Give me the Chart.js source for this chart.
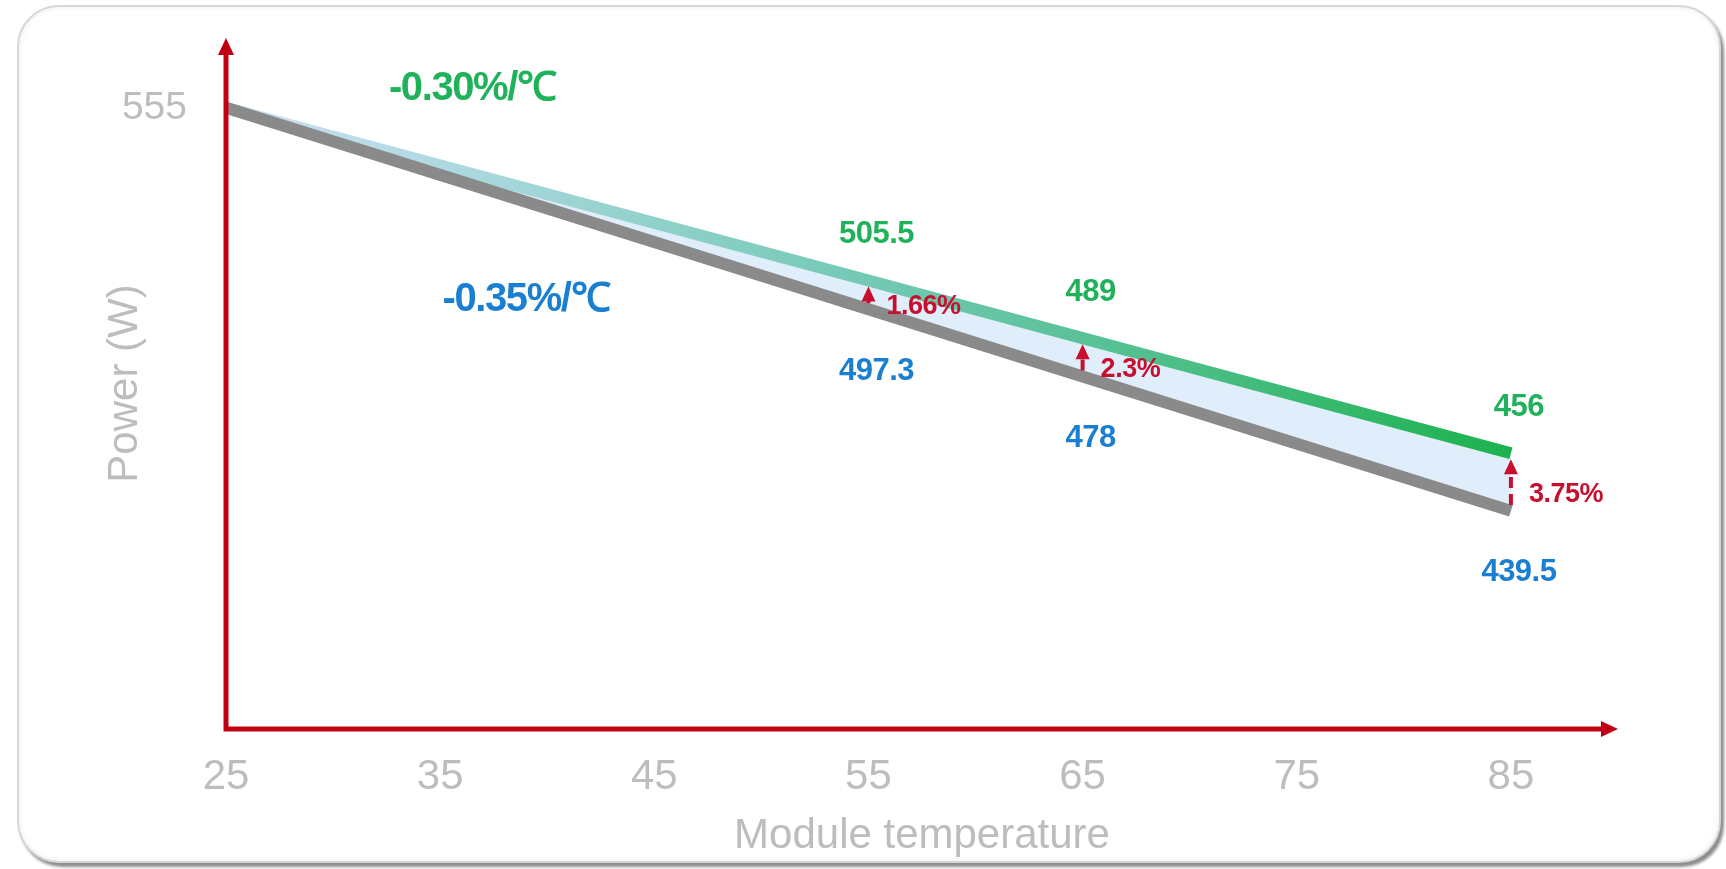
<!DOCTYPE html>
<html>
<head>
<meta charset="utf-8">
<script src="https://cdn.jsdelivr.net/npm/chart.js@4.4.1/dist/chart.umd.min.js"></script>
<style>
  body { margin: 0; background: #fff; }
  #card {
    position: absolute; left: 17px; top: 5px; width: 1700px; height: 854px;
    border: 2px solid #d6d6d6; border-radius: 42px; background: #fff;
    box-shadow: 3px 4px 3px rgba(0,0,0,0.45), inset 0 0 6px rgba(0,0,0,0.08);
  }
  #wrap { position: absolute; left: 0; top: 0; width: 1726px; height: 869px; }
</style>
</head>
<body>
<div id="card"></div>
<div id="wrap"><canvas id="tempChart"></canvas></div>
<script>
// values
const temps = [25, 55, 65, 85];
const power030 = [555, 505.5, 489, 456];
const power035 = [555, 497.3, 478, 439.5];
const gapTemps = [55, 65, 85];
const gapLabels = ["1.66%", "2.3%", "3.75%"];
const xTicks = [25, 35, 45, 55, 65, 75, 85];
const yTicks = [555];

const FONT = "'Liberation Sans', Arial, sans-serif";
const green = "#1fb25a";
const blue = "#1b7fd1";
const red = "#c8102e";
const axisRed = "#c00012";
const tickGray = "#bdbdbd";

function greenStroke(ctx) {
  const chart = ctx.chart;
  const area = chart.chartArea;
  if (!area) return green;
  const x = chart.scales.x;
  const g = chart.ctx.createLinearGradient(area.left, 0, x.getPixelForValue(85), 0);
  g.addColorStop(0, "#cde1f7");
  g.addColorStop(0.5, "#72c9b4");
  g.addColorStop(0.68, "#58c195");
  g.addColorStop(1, "#1cb24e");
  return g;
}

function arrowHead(c, x, y, dir, len, half) {
  c.beginPath();
  if (dir === "up") {
    c.moveTo(x, y);
    c.lineTo(x - half, y + len);
    c.lineTo(x + half, y + len);
  } else {
    c.moveTo(x, y);
    c.lineTo(x - len, y - half);
    c.lineTo(x - len, y + half);
  }
  c.closePath();
  c.fill();
}

function text(c, str, x, y, font, color, align, spacing) {
  c.save();
  c.font = font;
  c.fillStyle = color;
  c.textAlign = align || "center";
  c.textBaseline = "middle";
  c.letterSpacing = spacing || "0px";
  c.fillText(str, x, y);
  c.restore();
}

const decorations = {
  id: "decorations",
  afterDatasetsDraw(chart) {
    const c = chart.ctx;
    const x = chart.scales.x;
    const y = chart.scales.y;
    const area = chart.chartArea;

    // dashed gap arrows between the two lines
    gapTemps.forEach((t, i) => {
      const k = temps.indexOf(t);
      const px = x.getPixelForValue(t);
      const top = y.getPixelForValue(power030[k]) + 6;
      const bot = y.getPixelForValue(power035[k]) - 6;
      c.save();
      c.strokeStyle = red;
      c.fillStyle = red;
      c.lineWidth = 4;
      c.setLineDash([11, 6]);
      c.beginPath();
      c.moveTo(px, bot);
      c.lineTo(px, top + 12);
      c.stroke();
      c.setLineDash([]);
      arrowHead(c, px, top, "up", 15, 7);
      c.restore();
      text(c, gapLabels[i], px + 18, (top + bot) / 2 + 12, "bold 27px " + FONT, red, "left", "-0.5px");
    });

    // value labels
    temps.forEach((t, k) => {
      if (k === 0) return;
      const px = x.getPixelForValue(t);
      text(c, String(power030[k]), px + 8, y.getPixelForValue(power030[k]) - 46, "bold 31px " + FONT, green, "center", "-0.5px");
      text(c, String(power035[k]), px + 8, y.getPixelForValue(power035[k]) + 62, "bold 31px " + FONT, blue, "center", "-0.5px");
    });

    // slope labels
    text(c, "-0.30%/\u2103", x.getPixelForValue(36.5), y.getPixelForValue(560.5), "bold 40px " + FONT, green, "center", "-1.4px");
    text(c, "-0.35%/\u2103", x.getPixelForValue(39), y.getPixelForValue(500), "bold 40px " + FONT, blue, "center", "-1.4px");

    // red axes with arrow heads
    c.save();
    c.strokeStyle = axisRed;
    c.fillStyle = axisRed;
    c.lineWidth = 5;
    c.beginPath();
    c.moveTo(area.left, area.bottom + 2.5);
    c.lineTo(area.left, area.top + 14);
    c.moveTo(area.left - 2.5, area.bottom);
    c.lineTo(area.right - 14, area.bottom);
    c.stroke();
    arrowHead(c, area.left, area.top, "up", 17, 8);
    arrowHead(c, area.right, area.bottom, "right", 17, 8);
    c.restore();
  },
};

const tempChart = new Chart("tempChart", {
  type: "line",
  data: {
    datasets: [
      {
        label: "-0.35%/°C",
        data: temps.map((t, i) => ({ x: t, y: power035[i] })),
        borderColor: "#8a8a8a",
        borderWidth: 12,
        pointRadius: 0,
        tension: 0,
        fill: false,
        order: 0,
      },
      {
        label: "-0.30%/°C",
        data: temps.map((t, i) => ({ x: t, y: power030[i] })),
        borderColor: greenStroke,
        borderWidth: 12,
        pointRadius: 0,
        tension: 0,
        fill: { target: 0 },
        backgroundColor: "rgba(214, 231, 249, 0.75)",
        order: 1,
      },
    ],
  },
  options: {
    responsive: true,
    maintainAspectRatio: false,
    animation: false,
    layout: { padding: { left: 0, right: 108, top: 38, bottom: 12 } },
    plugins: {
      legend: { display: false },
      tooltip: { enabled: false },
    },
    scales: {
      x: {
        type: "linear",
        min: 25,
        max: 90,
        afterBuildTicks: (axis) => {
          axis.ticks = xTicks.map((v) => ({ value: v }));
        },
        afterFit: (axis) => {
          axis.height = 128;
          axis.paddingLeft = 0;
          axis.paddingRight = 0;
        },
        grid: { display: false, drawTicks: false },
        border: { display: false },
        ticks: { padding: 23, color: tickGray, font: { family: FONT, size: 42 } },
        title: {
          display: true,
          text: "Module temperature",
          color: tickGray,
          font: { family: FONT, size: 42, lineHeight: 1 },
          padding: { top: 0, bottom: 0 },
        },
      },
      y: {
        type: "linear",
        min: 377,
        max: 575,
        afterBuildTicks: (axis) => {
          axis.ticks = yTicks.map((v) => ({ value: v }));
        },
        afterFit: (axis) => {
          axis.width = 226;
          axis.paddingTop = 0;
          axis.paddingBottom = 0;
        },
        grid: { display: false, drawTicks: false },
        border: { display: false },
        ticks: { padding: 39, color: tickGray, font: { family: FONT, size: 39 } },
        title: {
          display: true,
          text: "Power (W)",
          color: tickGray,
          font: { family: FONT, size: 42, lineHeight: 1 },
          padding: { top: 104, bottom: 0 },
        },
      },
    },
  },
  plugins: [decorations],
});
</script>
</body>
</html>
